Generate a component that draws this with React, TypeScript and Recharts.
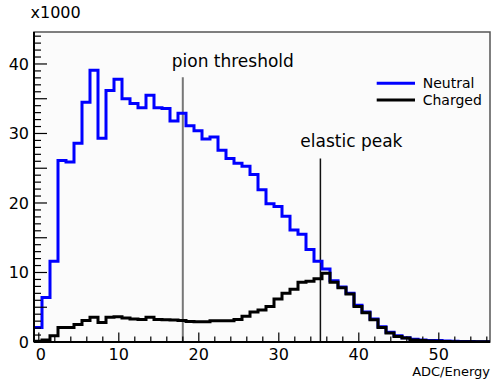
import { Legend, Line, LineChart, ReferenceArea, ReferenceLine, XAxis, YAxis } from 'recharts';

// histogram binning (ADC/Energy)
const HIST_MIN = -0.6;
const HIST_MAX = 56.4;
const BIN_WIDTH = 1;

// bin contents, in units of 1000 counts
const neutral = [
  2.1, 6.4, 11.6, 26.1, 25.9, 28.6, 34.5, 39.1, 29.3, 36.2,
  37.8, 35.0, 34.3, 33.7, 35.5, 33.7, 33.6, 31.8, 32.9, 31.1,
  30.4, 29.2, 29.5, 27.6, 26.4, 25.7, 25.3, 24.1, 21.9, 19.9,
  19.5, 18.1, 16.1, 15.5, 13.3, 11.6, 10.5, 8.8, 7.9, 7.0,
  5.3, 4.3, 3.3, 2.2, 1.4, 0.9, 0.6, 0.4, 0.3, 0.2,
  0.2, 0.15, 0.1, 0.08, 0.06, 0.05, 0.04,
];
const charged = [
  0.1, 0.3, 0.9, 2.1, 2.1, 2.5, 3.1, 3.55, 2.8, 3.55,
  3.65, 3.45, 3.3, 3.25, 3.55, 3.25, 3.2, 3.15, 3.1, 2.95,
  2.9, 2.9, 3.05, 3.05, 3.05, 3.25, 3.7, 4.3, 4.6, 5.1,
  6.2, 7.0, 7.6, 8.6, 8.75, 9.1, 9.9, 8.6, 7.8, 6.9,
  5.1, 4.2, 3.2, 2.1, 1.3, 0.8, 0.58, 0.3, 0.2, 0.15,
  0.1, 0.08, 0.05, 0.03, 0.03, 0.02, 0.02,
];

const xTicks = [0, 2, 4, 6, 8, 10, 12, 14, 16, 18, 20, 22, 24, 26, 28, 30, 32, 34, 36, 38, 40, 42, 44, 46, 48, 50, 52, 54, 56];
const yTicks = [
  0, 1, 2, 3, 4, 5, 6, 7, 8, 9, 10, 11, 12, 13, 14, 15, 16, 17, 18, 19, 20, 21, 22,
  23, 24, 25, 26, 27, 28, 29, 30, 31, 32, 33, 34, 35, 36, 37, 38, 39, 40, 41, 42, 43, 44,
];
const Y_MAX = 44.6;

// marker lines: position, top of the line (x1000), label
const pionThreshold = { x: 18, top: 38.1, text: 'pion threshold' };
const elasticPeak = { x: 35.2, top: 26.4, text: 'elastic peak' };

const series = [
  { key: 'neutral', name: 'Neutral', color: '#0000ff' },
  { key: 'charged', name: 'Charged', color: '#000000' },
];

// last point repeats the last bin so the step reaches the upper edge
const data = [...neutral, neutral[neutral.length - 1]].map((_, i) => ({
  x: HIST_MIN + i * BIN_WIDTH,
  neutral: neutral[Math.min(i, neutral.length - 1)],
  charged: charged[Math.min(i, charged.length - 1)],
}));

const FONT = 'DejaVu Sans, sans-serif';

function YTick({ x, y, payload }: any) {
  const v = payload.value;
  const len = v % 5 === 0 ? 13 : 7;
  return (
    <g>
      <line x1={x} x2={x + len} y1={y} y2={y} stroke='#000' strokeWidth={1.2} />
      {v % 10 === 0 && (
        <text x={x - 5} y={y} dy='0.36em' textAnchor='end' fontSize={16} fontFamily={FONT} fill='#000'>
          {v}
        </text>
      )}
    </g>
  );
}

function XTick({ x, y, payload }: any) {
  const v = payload.value;
  const major = v % 10 === 0;
  return (
    <g>
      <line x1={x} x2={x} y1={y} y2={y - (major ? 9.5 : 5.5)} stroke='#000' strokeWidth={1.2} />
      {major && (
        <text x={v === 0 ? x + 2 : x} y={y + 17.5} textAnchor='middle' fontSize={16} fontFamily={FONT} fill='#000'>
          {v}
        </text>
      )}
    </g>
  );
}

function LineLabel({ viewBox, text, dx, dy }: any) {
  return (
    <text x={viewBox.x + dx} y={viewBox.y - dy} textAnchor='middle' fontSize={17} fontFamily={FONT} fill='#000'>
      {text}
    </text>
  );
}

function XTitle({ viewBox }: any) {
  return (
    <text x={viewBox.x + viewBox.width} y={viewBox.y + 34} textAnchor='end' fontSize={13} fontFamily={FONT} fill='#000'>
      ADC/Energy
    </text>
  );
}

function YTitle({ viewBox }: any) {
  return (
    <text x={30.5} y={viewBox.y - 13.7} fontSize={16} fontFamily={FONT} fill='#000'>
      x1000
    </text>
  );
}

function HistLegend({ payload }: any) {
  const items = series.map((s) => {
    const p = (payload || []).find((q: any) => q.value === s.name);
    return { name: s.name, color: p ? p.color : s.color };
  });
  return (
    <svg width={115} height={36}>
      {items.map((p, i) => (
        <g key={p.name}>
          <line x1={0.7} x2={39} y1={9.3 + i * 16.7} y2={9.3 + i * 16.7} stroke={p.color} strokeWidth={3} />
          <text x={46.7} y={9.3 + i * 16.7} dy='0.36em' fontSize={14} fontFamily={FONT} fill='#000'>
            {p.name}
          </text>
        </g>
      ))}
    </svg>
  );
}

export default function App() {
  return (
    <div style={{ position: 'absolute', left: 0, top: 0, background: '#fff' }}>
      <LineChart width={492} height={379} data={data} margin={{ top: 32, right: 2, left: 0, bottom: 0 }}>
        <ReferenceArea x1={HIST_MIN} x2={HIST_MAX} y1={0} y2={Y_MAX} fill='#fbfbfb' fillOpacity={1} stroke='#555' strokeWidth={1.5} />
        <XAxis
          dataKey='x'
          type='number'
          domain={[HIST_MIN, HIST_MAX]}
          allowDataOverflow
          ticks={xTicks}
          interval={0}
          tick={<XTick />}
          tickSize={0}
          tickMargin={0}
          tickLine={false}
          axisLine={{ stroke: '#000', strokeWidth: 2 }}
          height={37}
          label={<XTitle />}
        />
        <YAxis
          type='number'
          domain={[0, Y_MAX]}
          allowDataOverflow
          ticks={yTicks}
          interval={0}
          tick={<YTick />}
          tickSize={0}
          tickMargin={0}
          tickLine={false}
          axisLine={{ stroke: '#000', strokeWidth: 2 }}
          width={34}
          label={<YTitle />}
        />
        <ReferenceLine
          segment={[{ x: pionThreshold.x, y: 0 }, { x: pionThreshold.x, y: pionThreshold.top }]}
          stroke='#777'
          strokeWidth={2}
          label={<LineLabel text={pionThreshold.text} dx={50} dy={10.6} />}
        />
        <ReferenceLine
          segment={[{ x: elasticPeak.x, y: 0 }, { x: elasticPeak.x, y: elasticPeak.top }]}
          stroke='#111'
          strokeWidth={1.5}
          label={<LineLabel text={elasticPeak.text} dx={31} dy={11.6} />}
        />
        {series.map((s) => (
          <Line
            key={s.key}
            dataKey={s.key}
            name={s.name}
            type='stepAfter'
            stroke={s.color}
            strokeWidth={3}
            dot={false}
            activeDot={false}
            isAnimationActive={false}
          />
        ))}
        <Legend
          layout='vertical'
          align='center'
          verticalAlign='middle'
          wrapperStyle={{ left: 376, top: 74, width: 115, height: 36 }}
          content={<HistLegend />}
        />
      </LineChart>
    </div>
  );
}
